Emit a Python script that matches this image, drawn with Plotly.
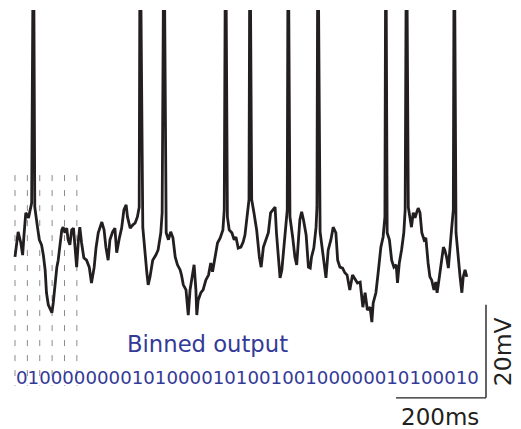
import plotly.graph_objects as go

# ---- data ----
# sub-threshold membrane potential trace (ms, mV)
trace_t_ms = [0, 7, 13, 17, 20, 24, 30, 33, 37, 44, 50, 54, 59, 63, 67, 70, 74, 78, 82, 85,
              89, 93, 96, 100, 104, 107, 111, 115, 118, 122, 126, 130, 133, 137, 141, 144, 148, 153, 159, 165,
              170, 176, 180, 185, 193, 198, 202, 207, 211, 217, 222, 226, 232, 237, 242, 247, 250, 256, 262, 267,
              272, 276, 284, 293, 296, 300, 306, 313, 318, 324, 327, 336, 341, 346, 351, 356, 361, 367, 370, 374,
              380, 385, 389, 393, 398, 402, 404, 407, 413, 418, 424, 430, 435, 439, 444, 450, 456, 462, 465, 472,
              476, 482, 487, 491, 496, 502, 507, 511, 516, 520, 526, 531, 537, 543, 547, 552, 558, 563, 568, 574,
              578, 581, 585, 589, 593, 598, 602, 605, 611, 617, 622, 626, 630, 633, 637, 641, 647, 652, 656, 659,
              664, 669, 671, 678, 682, 687, 691, 696, 702, 707, 713, 717, 722, 728, 733, 738, 744, 750, 756, 761,
              767, 773, 778, 783, 789, 793, 796, 802, 807, 813, 818, 822, 827, 832, 837, 842, 847, 850, 854, 859,
              864, 867, 874, 878, 881, 885, 889, 893, 896, 900, 904, 909, 913, 918, 922, 926, 931, 935, 938, 943,
              948, 952, 955, 959, 963, 967, 970, 974, 980, 985, 989, 993, 996, 1000, 1004]
trace_mV = [-61.5, -56.1, -58.5, -61.1, -56.8, -52.0, -53.1, -51.8, -49.9, -50.8, -55.1, -57.8, -58.9, -61.1, -64.3, -69.2, -71.8, -72.5, -73.5, -71.4,
            -67.1, -63.7, -62.2, -58.5, -55.7, -55.1, -56.3, -55.3, -57.8, -58.9, -55.7, -55.3, -59.4, -63.7, -57.8, -55.1, -58.5, -61.7, -62.2, -63.7,
            -67.1, -63.7, -59.6, -56.3, -54.0, -55.7, -59.4, -62.2, -57.8, -56.1, -55.3, -60.6, -57.4, -55.3, -51.4, -50.3, -52.9, -55.3, -54.6, -54.2,
            -52.9, -50.8, -55.1, -64.9, -67.5, -65.8, -62.2, -61.1, -60.0, -56.3, -52.0, -56.3, -57.8, -56.1, -57.4, -61.5, -63.2, -64.3, -65.4, -67.5,
            -68.6, -74.0, -68.6, -66.5, -63.2, -68.6, -74.0, -70.8, -69.2, -68.6, -66.5, -65.4, -62.8, -64.7, -62.2, -58.5, -57.4, -55.7, -51.4, -52.9,
            -55.7, -56.3, -57.8, -57.2, -59.6, -59.4, -58.3, -56.8, -52.9, -49.2, -49.2, -52.0, -55.7, -61.5, -63.7, -59.4, -57.8, -56.3, -52.0, -51.4,
            -50.8, -56.3, -62.2, -66.0, -64.3, -58.5, -55.1, -51.4, -52.9, -57.2, -61.5, -63.2, -58.5, -53.5, -51.8, -53.5, -56.8, -63.7, -63.9, -61.5,
            -59.6, -55.1, -50.8, -56.1, -59.4, -62.2, -66.0, -60.0, -57.8, -55.1, -56.3, -62.2, -63.7, -63.9, -64.9, -65.4, -68.6, -65.4, -66.5, -67.1,
            -66.9, -72.3, -69.2, -72.9, -72.3, -75.5, -71.4, -69.2, -64.9, -59.4, -57.2, -52.9, -56.3, -57.8, -62.2, -63.7, -63.2, -67.1, -62.8, -60.0,
            -56.3, -51.4, -50.8, -52.9, -55.1, -52.0, -53.1, -51.8, -51.0, -52.0, -56.3, -57.8, -57.4, -62.8, -65.8, -66.5, -68.6, -66.9, -69.2, -65.8,
            -62.8, -59.4, -60.0, -61.5, -63.9, -60.0, -55.7, -51.4, -56.3, -62.2, -65.8, -69.2, -65.8, -64.3, -65.8]

# action potentials (ms)
spike_t_ms = [41, 278, 331, 468, 522, 607, 673, 824, 870, 976]
spike_peak_mV = 15

# bin boundaries drawn as dashed lines (ms)
bin_edges_ms = [0, 27.5, 55, 82.5, 110, 137.5]
binned_output = "0100000000101000010100100100000010100010"

# scale bars
scale_t_ms = 200
scale_mV = 20

assert len(trace_t_ms) == len(trace_mV), (len(trace_t_ms), len(trace_mV))

# merge spikes into trace
pts = list(zip(trace_t_ms, trace_mV)) + [(t, spike_peak_mV) for t in spike_t_ms]
pts.sort(key=lambda p: p[0])
xs = [p[0] for p in pts]
ys = [p[1] for p in pts]

BLUE = "#343a97"
INK = "#231f20"
FONT = "DejaVu Sans"

fig = go.Figure()

# dashed bin lines
for e in bin_edges_ms:
    fig.add_shape(type="line", x0=e, x1=e, y0=-43.9, y1=-89.2, xref="x", yref="y",
                  line=dict(color="#8a8a8a", width=1, dash="6px,9px"), layer="below")

fig.add_trace(go.Scatter(x=xs, y=ys, mode="lines",
                         line=dict(color=INK, width=2.8), hoverinfo="skip"))

# scale bars
corner_t = 1046.6
corner_v = -91.8
fig.add_shape(type="line", x0=corner_t - scale_t_ms, x1=corner_t, y0=corner_v, y1=corner_v,
              line=dict(color=INK, width=1.4))
fig.add_shape(type="line", x0=corner_t, x1=corner_t, y0=corner_v, y1=corner_v + scale_mV,
              line=dict(color=INK, width=1.4))

fig.add_annotation(x=corner_t - scale_t_ms / 2 - 3, y=-96.0, text=f"{scale_t_ms}ms", showarrow=False,
                   font=dict(family=FONT, size=23, color=INK), xanchor="center", yanchor="middle",
                   borderpad=0)
fig.add_annotation(x=1083, y=corner_v + scale_mV / 2 - 0.1, text=f"{scale_mV}mV", showarrow=False,
                   textangle=-90, font=dict(family=FONT, size=23.5, color=INK),
                   xanchor="center", yanchor="middle")

fig.add_annotation(x=426.7, y=-80.3, text="Binned output", showarrow=False,
                   font=dict(family=FONT, size=22.7, color=BLUE), xanchor="center", yanchor="middle")
fig.add_annotation(x=516.6, y=-87.5, text=binned_output, showarrow=False,
                   font=dict(family=FONT, size=18.2, color=BLUE), xanchor="center", yanchor="middle")

fig.update_layout(
    width=521, height=429,
    margin=dict(l=0, r=0, t=10, b=0),
    paper_bgcolor="white", plot_bgcolor="white",
    showlegend=False,
    xaxis=dict(visible=False, range=[-33.3, 1124.4], fixedrange=True),
    yaxis=dict(visible=False, range=[-98.5, -8.4], fixedrange=True),
)

fig.write_html("out.html", config={"displayModeBar": False},
               post_script="document.body.style.margin='0px';document.body.style.overflow='hidden';")
